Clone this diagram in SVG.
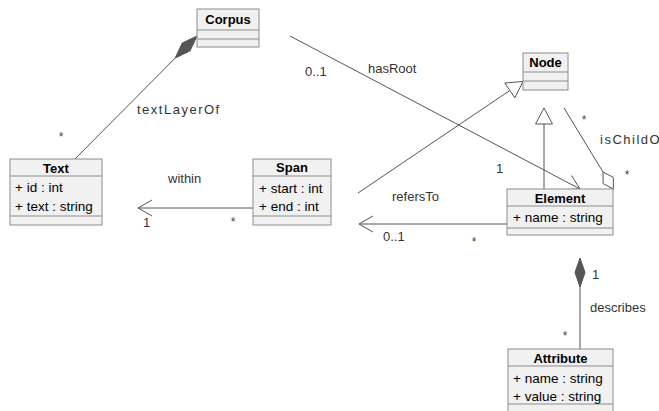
<svg xmlns="http://www.w3.org/2000/svg" width="659" height="411" viewBox="0 0 659 411">
  <style>
    .box { fill: #F1F1F1; stroke: #8C8C8C; stroke-width: 1; }
    .sep { stroke: #8C8C8C; stroke-width: 1; }
    .title { font-family: "Liberation Sans", Arial, sans-serif; font-size: 13px; font-weight: bold; fill: #000; text-anchor: middle; }
    .attr { font-family: "Liberation Sans", Arial, sans-serif; font-size: 13.5px; fill: #000; }
    .edge { stroke: #555; stroke-width: 1; fill: none; }
    .hollow { stroke: #555; stroke-width: 1; fill: #fff; }
    .solid { stroke: #555; stroke-width: 1; fill: #555; }
    .lbl { font-family: "Liberation Sans", Arial, sans-serif; font-size: 13px; fill: #333; }
    .spaced { letter-spacing: 1.5px; }
    .mult { font-family: "Liberation Sans", Arial, sans-serif; font-size: 12px; fill: #444; text-anchor: middle; }
  </style>

  <!-- connectors -->
  <g id="connectors">
    <!-- composition Corpus / Text : textLayerOf -->
    <line class="edge" x1="175.2" y1="58" x2="74" y2="160"/>
    <polygon class="solid" points="197,36 190,50.9 175.2,58 182.2,43.1"/>

    <!-- association Corpus to Element : hasRoot -->
    <line class="edge" x1="290" y1="36" x2="580" y2="189"/>
    <polyline class="edge" points="571.5,175.5 580,189 564,189.6"/>

    <!-- generalization Span to Node -->
    <line class="edge" x1="358" y1="193" x2="509.8" y2="90.5"/>
    <polygon class="hollow" points="523,81.5 514.8,97.9 504.8,83"/>

    <!-- generalization Element to Node -->
    <line class="edge" x1="544" y1="189" x2="544" y2="124"/>
    <polygon class="hollow" points="544,108 535.5,124 552.5,124"/>

    <!-- aggregation Element / Node : isChildOf -->
    <line class="edge" x1="564" y1="108" x2="603" y2="172"/>
    <polygon class="hollow" points="613.4,189 613.3,177.4 603,172 603.1,183.6"/>

    <!-- association Span to Text : within -->
    <line class="edge" x1="253" y1="208" x2="138" y2="208"/>
    <polyline class="edge" points="152,200 138,208 152,216"/>

    <!-- association Element to Span : refersTo -->
    <line class="edge" x1="507" y1="224" x2="359" y2="224"/>
    <polyline class="edge" points="373,216 359,224 373,232"/>

    <!-- composition Element / Attribute : describes -->
    <polygon class="solid" points="580,258 585,272.5 580,287 575,272.5"/>
    <line class="edge" x1="580" y1="287" x2="580" y2="349"/>

    <!-- labels -->
    <text class="lbl spaced" x="137" y="114">textLayerOf</text>
    <text class="mult" x="61" y="141">*</text>
    <text class="lbl" x="305" y="75.5">0..1</text>
    <text class="lbl" x="368" y="72.5">hasRoot</text>
    <text class="lbl" x="496" y="172.5">1</text>
    <text class="mult" x="584" y="124">*</text>
    <text class="lbl spaced" x="600" y="143.5">isChildOf</text>
    <text class="mult" x="627" y="179">*</text>
    <text class="lbl" x="168" y="182.5">within</text>
    <text class="lbl" x="143" y="227">1</text>
    <text class="mult" x="233" y="226">*</text>
    <text class="lbl" x="392" y="200.5">refersTo</text>
    <text class="lbl" x="383" y="240.5">0..1</text>
    <text class="mult" x="474" y="246">*</text>
    <text class="lbl" x="592" y="278.5">1</text>
    <text class="lbl" x="590" y="311.5">describes</text>
    <text class="mult" x="565" y="340">*</text>
  </g>

  <!-- classes -->
  <g id="corpus">
    <rect class="box" x="197" y="9" width="62" height="38"/>
    <line class="sep" x1="197" y1="30" x2="259" y2="30"/>
    <line class="sep" x1="197" y1="39" x2="259" y2="39"/>
    <text class="title" x="228" y="24">Corpus</text>
  </g>

  <g id="text">
    <rect class="box" x="10" y="159" width="92" height="66"/>
    <line class="sep" x1="10" y1="176" x2="102" y2="176"/>
    <line class="sep" x1="10" y1="216" x2="102" y2="216"/>
    <text class="title" x="56" y="172.5">Text</text>
    <text class="attr" x="15" y="192">+ id : int</text>
    <text class="attr" x="15" y="210.5">+ text : string</text>
  </g>

  <g id="span">
    <rect class="box" x="253" y="159" width="78" height="66"/>
    <line class="sep" x1="253" y1="176" x2="331" y2="176"/>
    <line class="sep" x1="253" y1="216" x2="331" y2="216"/>
    <text class="title" x="292" y="172">Span</text>
    <text class="attr" x="259" y="192.5">+ start : int</text>
    <text class="attr" x="259" y="211">+ end : int</text>
  </g>

  <g id="node">
    <rect class="box" x="523" y="53" width="45" height="37"/>
    <line class="sep" x1="523" y1="72" x2="568" y2="72"/>
    <line class="sep" x1="523" y1="81" x2="568" y2="81"/>
    <text class="title" x="545.5" y="67">Node</text>
  </g>

  <g id="element">
    <rect class="box" x="507" y="189" width="106" height="46"/>
    <line class="sep" x1="507" y1="206" x2="613" y2="206"/>
    <line class="sep" x1="507" y1="228" x2="613" y2="228"/>
    <text class="title" x="560" y="202.5">Element</text>
    <text class="attr" x="513" y="221.5">+ name : string</text>
  </g>

  <g id="attribute">
    <rect class="box" x="508" y="349" width="105" height="72"/>
    <line class="sep" x1="508" y1="366" x2="613" y2="366"/>
    <line class="sep" x1="508" y1="404" x2="613" y2="404"/>
    <text class="title" x="560.5" y="362.5">Attribute</text>
    <text class="attr" x="513" y="382.5">+ name : string</text>
    <text class="attr" x="513" y="400.5">+ value : string</text>
  </g>
</svg>
